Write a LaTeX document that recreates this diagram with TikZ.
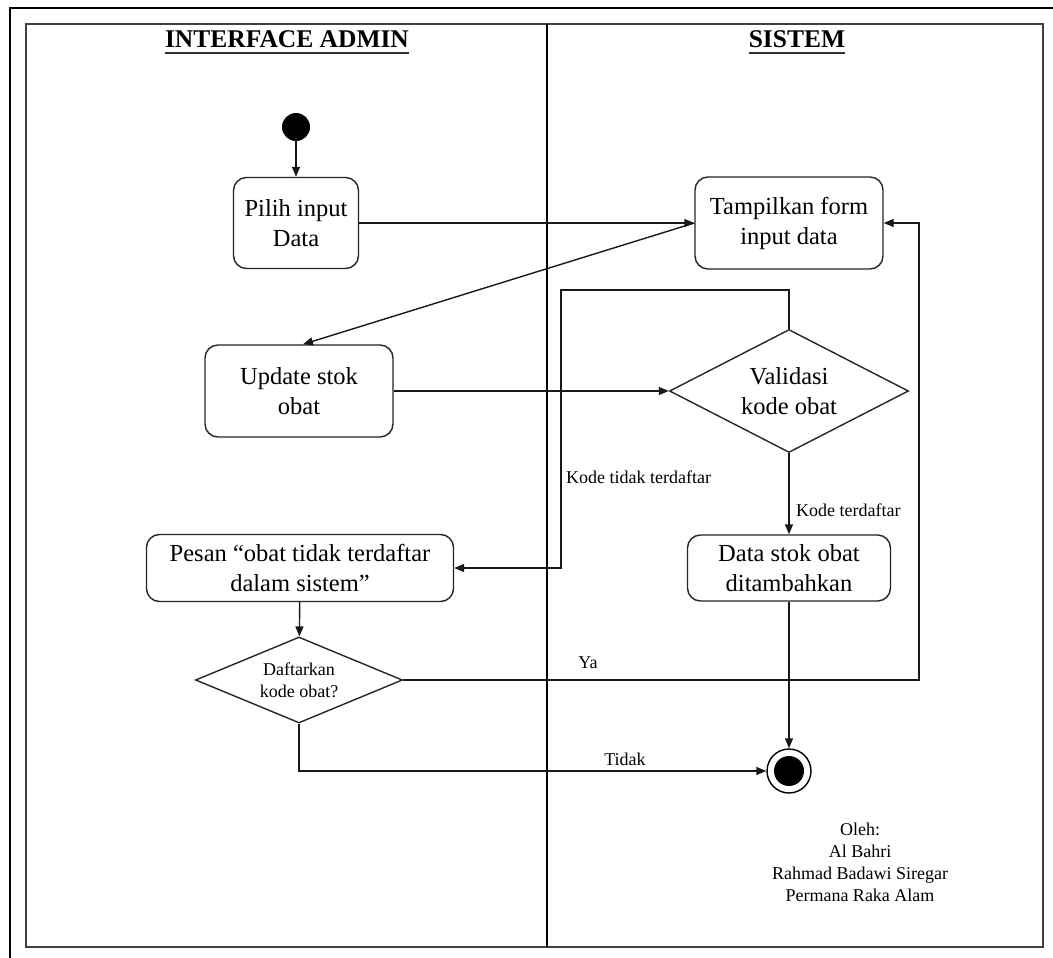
\documentclass[tikz,border=0pt]{standalone}
\usepackage{fontspec}
\setmainfont{Liberation Serif}
\usetikzlibrary{shapes.geometric,arrows.meta}
\begin{document}
\begin{tikzpicture}[x=1pt,y=-1pt,
  act/.style={draw=black!85, line width=1.4pt, rounded corners=13pt, align=center,
    inner sep=0pt, font=\fontsize{24.5}{30}\selectfont},
  dec/.style={draw=black!85, line width=1.4pt, diamond, align=center, inner sep=0pt},
  conn/.style={line width=1.4pt, draw=black!90},
  arr/.style={conn, -{Triangle[length=10pt,width=8pt]}},
  lbl/.style={font=\fontsize{18}{21}\selectfont, inner sep=0pt},
  ttl/.style={font=\fontsize{25.5}{30}\selectfont\bfseries, inner sep=0pt, anchor=base}
]
\path[use as bounding box, clip] (0,0) rectangle (1053,958);
\fill[white] (0,0) rectangle (1053,958);
% frames
\draw[line width=2.2pt] (10,980) -- (10,8) -- (1080,8);
\draw[line width=1.8pt, black!75] (26,24) rectangle (1043,947);
\draw[line width=1.3pt] (547,24) -- (547,947);
% titles
\node[ttl] (t1) at (287,48) {INTERFACE ADMIN};
\node[ttl] (t2) at (797,48) {SISTEM};
\draw[line width=2.6pt, black!80] ([yshift=-5pt]t1.base west) -- ([yshift=-5pt]t1.base east);
\draw[line width=2.6pt, black!80] ([yshift=-5pt]t2.base west) -- ([yshift=-5pt]t2.base east);
% nodes
\node[circle, fill=black, minimum size=28pt, inner sep=0pt] (start) at (296,127) {};
\node[act, minimum width=125pt, minimum height=91pt] (pilih) at (296,223) {Pilih input\\Data};
\node[act, minimum width=188pt, minimum height=92pt] (tampil) at (789,223) {Tampilkan form\\input data};
\node[act, minimum width=188pt, minimum height=92pt] (update) at (299,391) {Update stok\\obat};
\node[dec, minimum width=239pt, minimum height=123pt, aspect=1.94,
  font=\fontsize{24.5}{30}\selectfont] (valid) at (789,391) {Validasi\\kode obat};
\node[act, minimum width=307pt, minimum height=67pt] (pesan) at (300,568) {Pesan “obat tidak terdaftar\\dalam sistem”};
\node[act, minimum width=203pt, minimum height=66pt] (stok) at (789,568) {Data stok obat\\ditambahkan};
\node[dec, minimum width=207pt, minimum height=86pt, aspect=2.4,
  font=\fontsize{18}{22}\selectfont] (daft) at (299,680) {Daftarkan\\kode obat?};
\node[circle, draw, line width=1.4pt, minimum size=44pt, inner sep=0pt] (end) at (789,771) {};
\fill (end.center) circle (15pt);
% connectors
\coordinate (loopTL) at (561,290);
\coordinate (yaR) at (919,680);
\draw[arr] (start) -- (pilih);
\draw[arr] (pilih) -- (tampil);
\draw[arr] (tampil.west) -- ([xshift=4pt]update.north);
\draw[arr] (update) -- (valid);
\draw[arr] (valid.north) |- (loopTL) |- (pesan.east);
\draw[arr] (valid) -- (stok);
\draw[arr] (stok) -- (end);
\draw[arr] (pesan) -- (daft);
\draw[arr] (daft.east) -- (yaR) |- (tampil.east);
\draw[arr] (daft.south) |- (end.west);
% labels
\node[lbl, anchor=west] (l1) at (566,477) {Kode tidak terdaftar};
\node[lbl, anchor=west] (l2) at (796,510) {Kode terdaftar};
\node[lbl] (l3) at (588,663) {Ya};
\node[lbl] (l4) at (625,759) {Tidak};
\node[lbl, align=center, font=\fontsize{18}{22}\selectfont] (auth) at (860,862)
  {Oleh:\\Al Bahri\\Rahmad Badawi Siregar\\Permana Raka Alam};
\end{tikzpicture}
\end{document}
